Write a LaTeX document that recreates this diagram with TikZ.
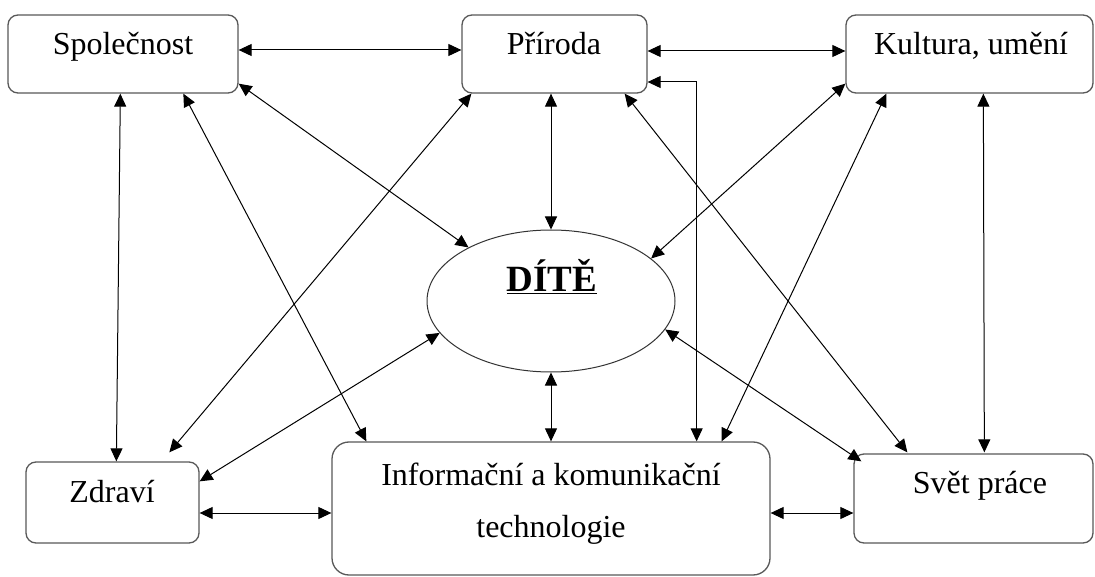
\documentclass[tikz,border=0pt]{standalone}
\usepackage{fontspec}
\setmainfont{Liberation Serif}
\usetikzlibrary{arrows.meta,shapes.geometric}
\tikzset{
  box/.style={draw=black!65, line width=1.3pt, rounded corners=10pt, rectangle, inner sep=0pt},
  bigbox/.style={box, rounded corners=17pt},
  oval/.style={draw=black!80, line width=1pt, ellipse, inner sep=0pt, minimum width=248pt, minimum height=142pt},
  lbl/.style={inner sep=0pt, anchor=base, font=\fontsize{32}{38}\selectfont},
  arr/.style={{Triangle[length=13pt,width=12pt]}-{Triangle[length=13pt,width=12pt]}, line width=1pt, black}
}
\begin{document}
\begin{tikzpicture}[x=1pt,y=-1pt]
\path[use as bounding box, fill=white] (0,0) rectangle (1095,577);

\node[box, minimum width=230pt, minimum height=78pt] (spol) at (123,54) {};
\node[box, minimum width=185pt, minimum height=78pt] (prir) at (554.5,54) {};
\node[box, minimum width=247pt, minimum height=78pt] (kult) at (969.5,54) {};
\node[box, minimum width=173pt, minimum height=81pt] (zdr) at (112.5,502.5) {};
\node[bigbox, minimum width=438pt, minimum height=133pt] (ict) at (551,508.5) {};
\node[box, minimum width=239pt, minimum height=89pt] (svet) at (973.5,498.5) {};
\node[oval] (dite) at (551,301) {};

\node[lbl] (tspol) at (123,55) {Společnost};
\node[lbl] (tprir) at (554,55) {Příroda};
\node[lbl] (tkult) at (971,55) {Kultura, umění};
\node[lbl] (tzdr) at (112,502) {Zdraví};
\node[lbl] (tict1) at (551,485) {Informační a komunikační};
\node[lbl] (tict2) at (551,537) {technologie};
\node[lbl] (tsvet) at (980,493) {Svět práce};
\node[inner sep=0pt, anchor=base, font=\fontsize{37}{42}\selectfont\bfseries] (tdite) at (552,292) {\underline{DÍTĚ}};

% top row
\draw[arr] ([yshift=4pt]spol.east) -- ([yshift=4pt]prir.west);
\draw[arr] ([yshift=3pt]prir.east) -- ([yshift=3pt]kult.west);
% from Společnost
\draw[arr] ([xshift=113pt]spol.south west) -- ([xshift=91pt]zdr.north west);
\draw[arr] ([xshift=176pt]spol.south west) -- ([xshift=35pt]ict.north west);
\draw[arr] ([yshift=10pt]spol.south east) -- (dite.147);
% from Příroda
\draw[arr] ([xshift=10pt]prir.south west) -- ([xshift=144pt,yshift=9pt]zdr.north west);
\draw[arr] (dite.north |- prir.south) -- (dite.north);
\draw[arr] ([yshift=-28pt]prir.east) -| ([xshift=-74pt]ict.north east);
\draw[arr] ([xshift=-23pt]prir.south east) -- ([xshift=54pt,yshift=1pt]svet.north west);
% from Kultura
\draw[arr] ([yshift=10pt]kult.south west) -- (dite.23);
\draw[arr] ([xshift=41pt]kult.south west) -- ([xshift=-49pt]ict.north east);
\draw[arr] ([xshift=138pt]kult.south west) -- ([xshift=131pt,yshift=1pt]svet.north west);
% from DÍTĚ
\draw[arr] (dite.196) -- ([yshift=-20pt]zdr.north east);
\draw[arr] (dite.south) -- (dite.south |- ict.north);
\draw[arr] (dite.-14) -- ([xshift=8pt,yshift=-8pt]svet.north west);
% bottom row
\draw[arr] ([yshift=-10.5pt]zdr.east) -- ([yshift=-4.5pt]ict.west);
\draw[arr] ([yshift=-4.5pt]ict.east) -- ([yshift=-14.5pt]svet.west);
\end{tikzpicture}
\end{document}
